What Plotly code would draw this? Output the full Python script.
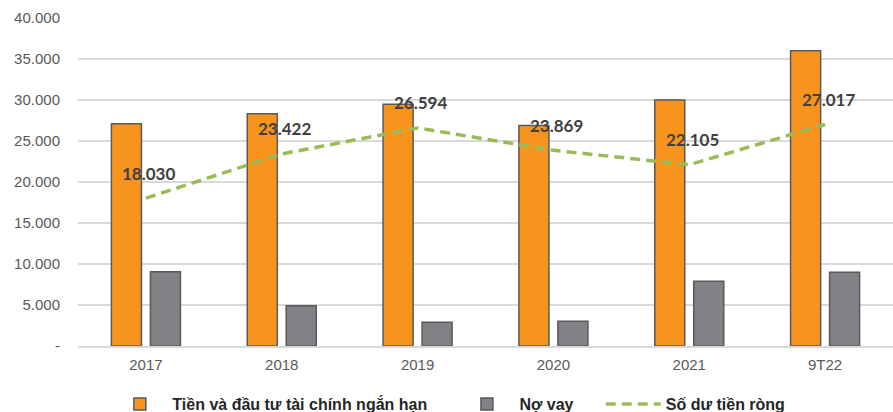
import plotly.graph_objects as go

categories = ["2017", "2018", "2019", "2020", "2021", "9T22"]
cash_invest = [27100, 28320, 29490, 26900, 30000, 36000]
debt = [9070, 4900, 2900, 3030, 7900, 8980]
net_cash = [18030, 23422, 26594, 23869, 22105, 27017]
net_labels = ["18.030", "23.422", "26.594", "23.869", "22.105", "27.017"]
y_ticks = [0, 5000, 10000, 15000, 20000, 25000, 30000, 35000, 40000]
y_tick_text = ["-", "5.000", "10.000", "15.000", "20.000", "25.000", "30.000", "35.000", "40.000"]

pad = "&nbsp;" * 5

fig = go.Figure()
fig.add_trace(go.Bar(
    x=categories, y=cash_invest, name="<b>Tiền và đầu tư tài chính ngắn hạn</b>" + pad,
    marker=dict(color="#F7941D", line=dict(color="#595959", width=1.5)),
))
fig.add_trace(go.Bar(
    x=categories, y=debt, name="<b>Nợ vay</b>" + pad,
    marker=dict(color="#808285", line=dict(color="#595959", width=1.5)),
))
fig.add_trace(go.Scatter(
    x=categories, y=net_cash, name="<b>Số dư tiền ròng</b>", mode="lines",
    line=dict(color="#9BBB59", width=3.5, dash="10px,6px"),
))

for i, (v, t) in enumerate(zip(net_cash, net_labels)):
    fig.add_annotation(x=i, y=v, text="<b>" + t + "</b>", showarrow=False,
                       yshift=25, xshift=3,
                       font=dict(family="Lato, Liberation Sans", size=17, color="#404040"))

fig.update_layout(
    width=893, height=412,
    margin=dict(l=78, r=0, t=18, b=66, autoexpand=False),
    paper_bgcolor="white", plot_bgcolor="white",
    barmode="group", bargap=0.426, bargroupgap=0.23,
    font=dict(family="Liberation Sans, Arial", size=15, color="#595959"),
    legend=dict(orientation="h", x=0.036, xanchor="left", y=-0.125, yanchor="top",
                font=dict(family="Liberation Sans Narrow, Liberation Sans", size=16, color="#262626"),
                itemwidth=55, traceorder="normal"),
    showlegend=True,
)
fig.update_xaxes(type="category", range=[-0.5, 5.5], showgrid=False, showline=True,
                 linecolor="#d9d9d9", linewidth=1.5, ticklabelstandoff=4,
                 ticks="", tickfont=dict(size=15, color="#595959"))
fig.update_yaxes(range=[0, 40000], tickvals=y_ticks, ticktext=y_tick_text,
                 showgrid=True, gridcolor="#d9d9d9", gridwidth=1.5,
                 zeroline=False, showline=False, ticks="", ticklabelstandoff=17,
                 tickfont=dict(size=15, color="#595959"))

fig.write_html("out.html")
